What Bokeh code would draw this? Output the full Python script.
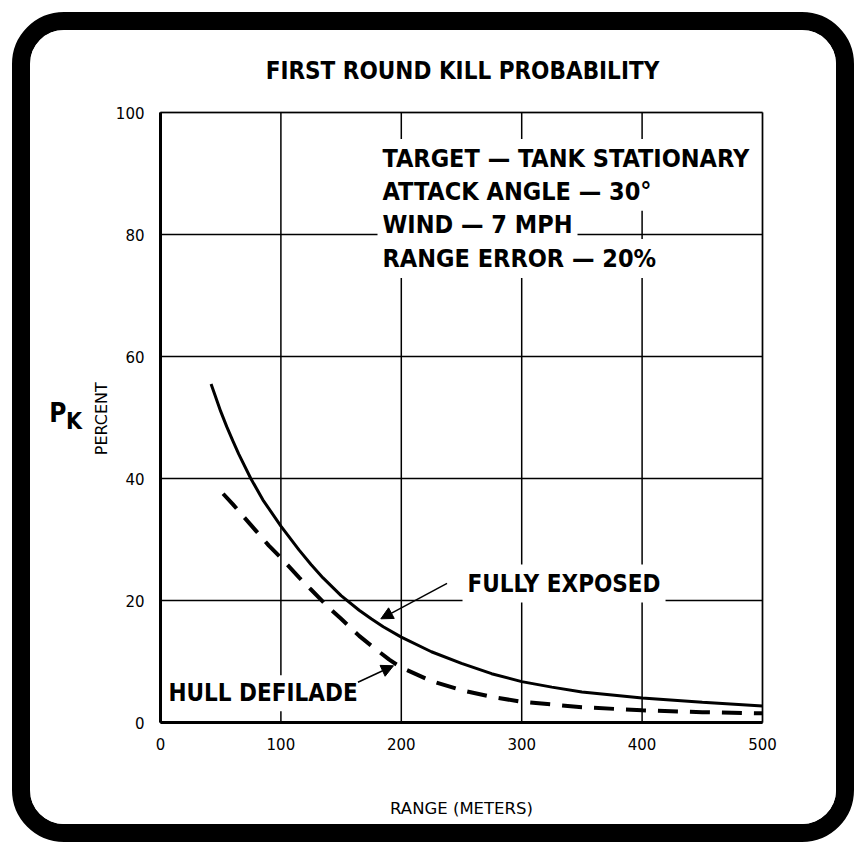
import math
from bokeh.plotting import figure
from bokeh.models import (Range1d, Label, Arrow, NormalHead, FixedTicker, LinearAxis,
                          BoxAnnotation)
from bokeh.embed import file_html
from bokeh.resources import INLINE

# ---- data ----
range_full = [42, 45, 50, 55, 60, 65, 75, 85, 100, 115, 125, 135, 150, 165, 175, 185,
              200, 225, 250, 275, 300, 325, 350, 400, 450, 500]
pk_full = [55.5, 53.8, 51.0, 48.5, 46.2, 44.0, 40.0, 36.5, 32.2, 28.3, 25.9, 23.7, 20.8,
           18.4, 17.0, 15.7, 14.0, 11.6, 9.7, 8.0, 6.7, 5.8, 5.0, 4.0, 3.3, 2.7]

range_hull = [52, 60, 75, 90, 100, 115, 125, 140, 150, 165, 175, 190, 200, 225, 250, 275,
              300, 350, 400, 450, 500]
pk_hull = [37.5, 35.8, 32.4, 29.0, 27.0, 23.8, 21.8, 18.8, 17.0, 14.2, 12.6, 10.3, 9.0,
           6.8, 5.3, 4.2, 3.4, 2.5, 2.0, 1.7, 1.5]

x_ticks = [0, 100, 200, 300, 400, 500]
y_ticks = [0, 20, 40, 60, 80, 100]

title_text = "FIRST ROUND KILL PROBABILITY"
conditions = ["TARGET \u2014 TANK STATIONARY", "ATTACK ANGLE \u2014 30\u00b0",
              "WIND \u2014 7 MPH", "RANGE ERROR \u2014 20%"]

BOLD = "DejaVu Sans Condensed, DejaVu Sans, sans-serif"
REG = "DejaVu Sans, sans-serif"

# ---- layout (pixels) ----
W, H = 842, 830           # outer size incl. 18px border
BORDER = 18
ORIGIN = 12 + BORDER      # canvas origin on the page
PX0, PX500 = 160, 762     # page x of range 0 and 500
PY0, PY100 = 722, 112     # page y of pk 0 and 100
sx = (PX500 - PX0) / 500.0
sy = (PY0 - PY100) / 100.0
x_lo = (ORIGIN - PX0) / sx
x_hi = (ORIGIN + W - PX0) / sx
y_hi = (PY0 - ORIGIN) / sy
y_lo = (PY0 - (ORIGIN + H)) / sy
DY = 9.0 / sy             # baseline correction for labels


def dx(pad):
    return pad / sx


p = figure(width=W, height=H, output_backend="svg", toolbar_location=None,
           x_range=Range1d(x_lo, x_hi), y_range=Range1d(y_lo, y_hi),
           x_axis_type=None, y_axis_type=None,
           min_border=0, min_border_left=0, min_border_right=0,
           min_border_top=0, min_border_bottom=0)
p.styles = {"border": f"{BORDER}px solid black", "border-radius": "52px",
            "overflow": "hidden", "margin-left": "12px", "margin-top": "12px"}
p.background_fill_color = "white"
p.border_fill_color = "white"
p.outline_line_color = None

# grid lines drawn at the tick values, spanning the data box
p.segment(x0=x_ticks, y0=[0] * len(x_ticks), x1=x_ticks, y1=[100] * len(x_ticks),
          line_color="black", line_width=1.5)
p.segment(x0=[0] * len(y_ticks), y0=y_ticks, x1=[500] * len(y_ticks), y1=y_ticks,
          line_color="black", line_width=1.5)
p.add_layout(BoxAnnotation(left=0, right=500, bottom=0, top=100, fill_alpha=0,
                           line_color="black", line_width=2))

xaxis = LinearAxis(fixed_location=0, bounds=(0, 500), ticker=FixedTicker(ticks=x_ticks))
yaxis = LinearAxis(fixed_location=0, bounds=(0, 100), ticker=FixedTicker(ticks=y_ticks))
for ax in (xaxis, yaxis):
    ax.axis_line_color = "black"
    ax.axis_line_width = 3
    ax.major_tick_line_color = None
    ax.minor_tick_line_color = None
    ax.major_label_text_font = REG
    ax.major_label_text_color = "black"
    ax.major_label_text_font_size = "15px"
xaxis.major_label_standoff = 9
yaxis.major_label_standoff = 10
xaxis.axis_label = "RANGE (METERS)"
xaxis.axis_label_text_font = REG
xaxis.axis_label_text_font_style = "normal"
xaxis.axis_label_text_font_size = "16.5px"
xaxis.axis_label_text_color = "black"
xaxis.axis_label_standoff = 46
p.add_layout(xaxis, "below")
p.add_layout(yaxis, "left")

p.line(range_full, pk_full, line_color="black", line_width=3)
p.line(range_hull, pk_hull, line_color="black", line_width=4, line_dash="20 12")

# title
p.add_layout(Label(x=250.8, y=105.4 + DY, text=title_text, text_align="center",
                   text_baseline="alphabetic", text_font=BOLD, text_font_style="bold",
                   text_font_size="24px", text_color="black"))

# condition block
cond_y = [91.0, 85.6, 80.2, 74.6]
for t, yy in zip(conditions, cond_y):
    p.add_layout(Label(x=184.4 - dx(5), y=yy + DY, text=t, text_align="left",
                       text_baseline="alphabetic",
                       text_font=BOLD, text_font_style="bold", text_font_size="25px",
                       text_color="black", background_fill_color="white", padding=5))

# curve labels
p.add_layout(Label(x=255 - dx(5), y=21.3 + DY, text="FULLY EXPOSED", text_baseline="alphabetic",
                   text_font=BOLD, text_font_style="bold", text_font_size="24px",
                   text_color="black", background_fill_color="white", padding=5))
p.add_layout(Label(x=6.6 - dx(4), y=3.3 + DY, text="HULL DEFILADE", text_baseline="alphabetic",
                   text_font=BOLD, text_font_style="bold", text_font_size="24px",
                   text_color="black", background_fill_color="white", padding=4))

p.add_layout(Arrow(x_start=238, y_start=22.8, x_end=183, y_end=17.0,
                   line_color="black", line_width=1.5,
                   end=NormalHead(size=12, fill_color="black", line_color="black")))
p.add_layout(Arrow(x_start=164, y_start=6.6, x_end=193.5, y_end=9.3,
                   line_color="black", line_width=1.5,
                   end=NormalHead(size=12, fill_color="black", line_color="black")))

# y axis title: P_K PERCENT
p.add_layout(Label(x=-92.5, y=49.2 + DY, text="P", text_baseline="alphabetic",
                   text_font=BOLD, text_font_style="bold", text_font_size="26px",
                   text_color="black"))
p.add_layout(Label(x=-78.5, y=47.9 + DY, text="K", text_baseline="alphabetic",
                   text_font=BOLD, text_font_style="bold", text_font_size="23px",
                   text_color="black"))
p.add_layout(Label(x=-49, y=49.8, text="PERCENT", angle=math.pi / 2, text_align="center",
                   text_baseline="middle", text_font=REG, text_font_size="16px",
                   text_color="black"))

open("out.html", "w").write(file_html(p, INLINE))
